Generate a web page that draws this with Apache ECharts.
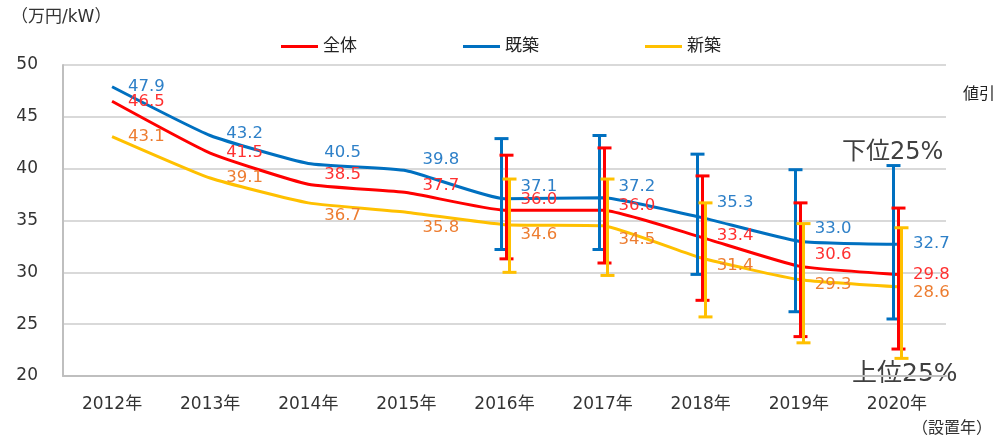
<!DOCTYPE html>
<html>
<head>
<meta charset="utf-8">
<script src="https://cdn.jsdelivr.net/npm/echarts@6/dist/echarts.min.js"></script>
<style>
html, body { margin: 0; padding: 0; background: #fff; }
#chart { width: 995px; height: 437px; }
</style>
</head>
<body>
<div id="chart"></div>
<script>
// 設置年
var years = ['2012年', '2013年', '2014年', '2015年', '2016年', '2017年', '2018年', '2019年', '2020年'];
// 平均値（万円/kW）
var allVals = [46.5, 41.5, 38.5, 37.7, 36.0, 36.0, 33.4, 30.6, 29.8];   // 全体
var oldVals = [47.9, 43.2, 40.5, 39.8, 37.1, 37.2, 35.3, 33.0, 32.7];   // 既築
var newVals = [43.1, 39.1, 36.7, 35.8, 34.6, 34.5, 31.4, 29.3, 28.6];   // 新築
// 下位25%〜上位25%の幅（2016年〜）
var rangeYears = ['2016年', '2017年', '2018年', '2019年', '2020年'];
var allHigh = [41.3, 42.0, 39.3, 36.7, 36.2];
var allLow = [31.3, 30.9, 27.3, 23.8, 22.6];
var oldHigh = [42.9, 43.2, 41.4, 39.9, 40.3];
var oldLow = [32.2, 32.2, 29.8, 26.2, 25.5];
var newHigh = [39.0, 39.0, 36.7, 34.7, 34.3];
var newLow = [30.0, 29.7, 25.7, 23.2, 21.7];

// ラベルの上下ずらし（見た目の調整用）
var oldShift = [0, -2, -11, -11, -12, -11, -15, -13, -1];
var allShift = [0, 0, -9, -7, -10, -4, -1, -11, 0];
var newShift = [0, 0, 13, 16, 10, 14, 8, 5, 6];

var chart = echarts.init(document.getElementById('chart'));
var font = 'DejaVu Sans, "Noto Sans CJK JP", sans-serif';

function lineData(vals, shift) {
	return vals.map(function(v, i) {
		return { value: v, label: { offset: [0, shift[i]] } };
	});
}

function rangeData(high, low) {
	return rangeYears.map(function(y, i) {
		return [y, low[i], high[i]];
	});
}

function errorBar(color, dx) {
	return function(params, api) {
		var top = api.coord([api.value(0), api.value(2)]);
		var bot = api.coord([api.value(0), api.value(1)]);
		var x = Math.round(top[0] + dx) + 0.5;
		var st = { stroke: color, lineWidth: 3 };
		return {
			type: 'group',
			children: [
				{ type: 'line', shape: { x1: x, y1: top[1], x2: x, y2: bot[1] }, style: st },
				{ type: 'line', shape: { x1: x - 7, y1: top[1], x2: x + 7, y2: top[1] }, style: st },
				{ type: 'line', shape: { x1: x - 7, y1: bot[1], x2: x + 7, y2: bot[1] }, style: st }
			]
		};
	};
}

function lineSeries(name, vals, shift, color, labelColor) {
	return {
		name: name,
		type: 'line',
		data: lineData(vals, shift),
		smooth: 0.15,
		symbol: 'circle',
		symbolSize: 0,
		showSymbol: true,
		lineStyle: { color: color, width: 3 },
		itemStyle: { color: color },
		z: 2,
		label: {
			show: true,
			position: 'right',
			distance: 16,
			color: labelColor,
			fontSize: 16.5,
			fontFamily: font,
			formatter: function(p) { return p.value.toFixed(1); }
		}
	};
}

var option = {
	animation: false,
	textStyle: { fontFamily: font },
	legend: {
		left: 276,
		top: 33,
		itemWidth: 37,
		itemHeight: 3,
		itemGap: 106,
		icon: 'rect',
		textStyle: { fontSize: 17, color: '#222', fontFamily: font },
		data: ['全体', '既築', '新築']
	},
	grid: { left: 63, right: 49, top: 65, bottom: 61 },
	xAxis: {
		type: 'category',
		data: years,
		axisLine: { lineStyle: { color: '#bfbfbf', width: 2 } },
		axisTick: { show: false },
		axisLabel: { color: '#333', fontSize: 17, margin: 20, fontFamily: font }
	},
	yAxis: {
		type: 'value',
		min: 20,
		max: 50,
		interval: 5,
		axisLine: { show: true, lineStyle: { color: '#bfbfbf', width: 2 } },
		axisTick: { show: false },
		axisLabel: { color: '#333', fontSize: 17, margin: 25, fontFamily: font },
		splitLine: { lineStyle: { color: '#d9d9d9', width: 2 } }
	},
	series: [
		lineSeries('全体', allVals, allShift, '#ff0000', '#ff3030'),
		lineSeries('既築', oldVals, oldShift, '#0070c0', '#2e80c8'),
		lineSeries('新築', newVals, newShift, '#ffc000', '#ed7d31'),
		{ type: 'custom', name: 'err-old', data: rangeData(oldHigh, oldLow), renderItem: errorBar('#0070c0', -4), z: 3, encode: { x: 0, y: [1, 2] } },
		{ type: 'custom', name: 'err-all', data: rangeData(allHigh, allLow), renderItem: errorBar('#ff0000', 1), z: 4, encode: { x: 0, y: [1, 2] } },
		{ type: 'custom', name: 'err-new', data: rangeData(newHigh, newLow), renderItem: errorBar('#ffc000', 4), z: 5, encode: { x: 0, y: [1, 2] } }
	],
	graphic: [
		{ type: 'text', left: 11, top: 9, style: { text: '（万円/kW）', fill: '#333', font: '17px ' + font } },
		{ type: 'text', left: 912, top: 421, style: { text: '（設置年）', fill: '#333', font: '16px ' + font } },
		{ type: 'text', left: 842, top: 141, style: { text: '下位25%', fill: '#404040', font: '24px ' + font } },
		{ type: 'text', left: 852, top: 362, style: { text: '上位25%', fill: '#404040', font: '25px ' + font } },
		{ type: 'text', left: 963, top: 87, style: { text: '値引き', fill: '#222', font: '16px ' + font } }
	]
};

chart.setOption(option);
</script>
</body>
</html>
